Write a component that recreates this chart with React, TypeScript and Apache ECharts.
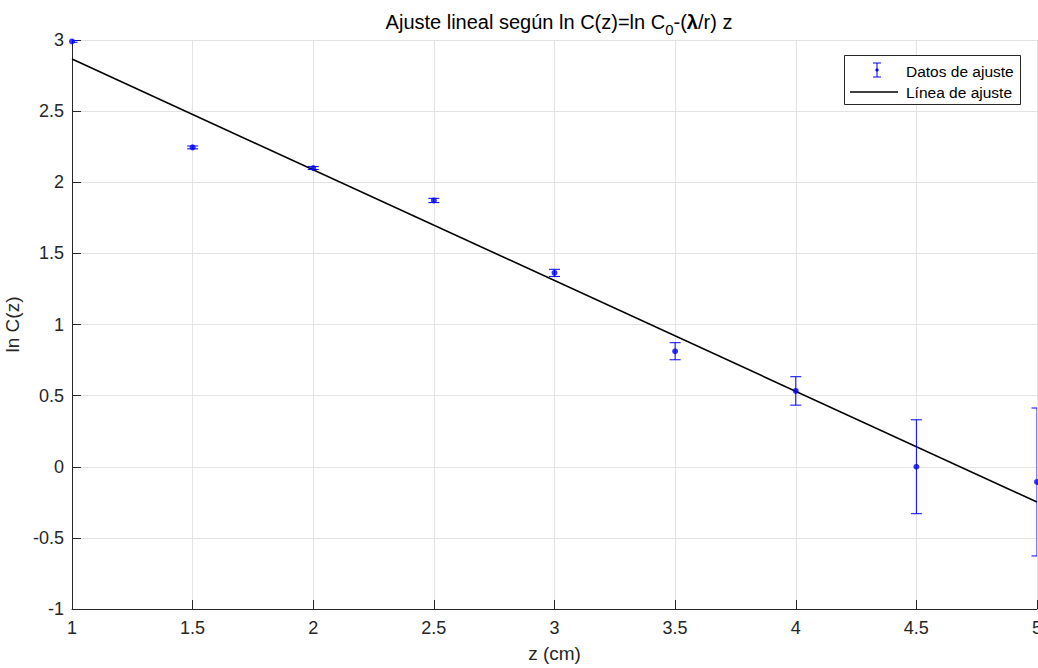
import React, { useEffect, useRef } from "react";
import * as echarts from "echarts";

const zValues = [1, 1.5, 2, 2.5, 3, 3.5, 4, 4.5, 5];
const lnC = [2.99, 2.245, 2.1, 1.872, 1.363, 0.812, 0.533, 0.0, -0.107];
const errors = [0.006, 0.01, 0.01, 0.015, 0.025, 0.06, 0.1, 0.33, 0.52];
const fitZ = [1, 5];
const fitLnC = [2.866, -0.248];
const xTicks = { min: 1, max: 5, interval: 0.5 };
const yTicks = { min: -1, max: 3, interval: 0.5 };

const FONT = "'Liberation Sans', Arial, Helvetica, sans-serif";
const BLUE = "#0000ff";
const AXIS = "#262626";

export default function App() {
  const ref = useRef<HTMLDivElement>(null);
  useEffect(() => {
    if (!ref.current) return;
    const chart = echarts.init(ref.current, undefined, { renderer: "svg" });
    const errData = zValues.map((z, i) => [z, lnC[i] - errors[i], lnC[i] + errors[i]]);
    const pts = zValues.map((z, i) => [z, lnC[i]]);
    const fit = fitZ.map((z, i) => [z, fitLnC[i]]);
    chart.setOption({
      animation: false,
      textStyle: { fontFamily: FONT },
      title: {
        text: "Ajuste lineal según ln C(z)=ln C{sub|0}-({b|λ}/r) z",
        left: 554,
        textAlign: "center",
        top: 1,
        textStyle: {
          fontFamily: FONT,
          fontSize: 20,
          fontWeight: "normal",
          color: "#000",
          rich: {
            sub: { fontSize: 15, fontFamily: FONT, color: "#000", padding: [16, 0, 0, 0] },
            b: { fontSize: 20, fontFamily: FONT, fontWeight: "bold", color: "#000" },
          },
        },
      },
      grid: { left: 72, right: 1, top: 40, bottom: 59, outerBoundsMode: "none", containLabel: false },
      xAxis: {
        type: "value",
        min: xTicks.min,
        max: xTicks.max,
        interval: xTicks.interval,
        name: "z (cm)",
        nameLocation: "middle",
        nameGap: 35,
        nameTextStyle: { fontFamily: FONT, fontSize: 19, color: AXIS },
        axisLine: { show: true, onZero: false, lineStyle: { color: AXIS, width: 1 } },
        axisTick: { show: true, inside: true, length: 9, lineStyle: { color: AXIS } },
        axisLabel: { fontFamily: FONT, fontSize: 18, color: AXIS, margin: 10 },
        splitLine: { show: true, lineStyle: { color: "#e3e3e3", width: 1 } },
      },
      yAxis: {
        type: "value",
        min: yTicks.min,
        max: yTicks.max,
        interval: yTicks.interval,
        name: "ln C(z)",
        nameLocation: "middle",
        nameGap: 37,
        nameRotate: 90,
        nameTextStyle: { fontFamily: FONT, fontSize: 19, color: AXIS },
        axisLine: { show: true, onZero: false, lineStyle: { color: AXIS, width: 1 } },
        axisTick: { show: true, inside: true, length: 9, lineStyle: { color: AXIS } },
        axisLabel: { fontFamily: FONT, fontSize: 18, color: AXIS, margin: 8 },
        splitLine: { show: true, lineStyle: { color: "#e3e3e3", width: 1 } },
      },
      series: [
        {
          type: "custom",
          name: "Datos de ajuste",
          clip: true,
          data: errData,
          encode: { x: 0, y: [1, 2] },
          renderItem: (params: any, api: any) => {
            const x = api.value(0);
            const lo = api.coord([x, api.value(1)]);
            const hi = api.coord([x, api.value(2)]);
            const hw = 5.5;
            const st = { stroke: BLUE, lineWidth: 1, fill: "none" };
            return {
              type: "group",
              children: [
                { type: "line", shape: { x1: lo[0], y1: lo[1], x2: hi[0], y2: hi[1] }, style: st },
                { type: "line", shape: { x1: lo[0] - hw, y1: lo[1], x2: lo[0] + hw, y2: lo[1] }, style: st },
                { type: "line", shape: { x1: hi[0] - hw, y1: hi[1], x2: hi[0] + hw, y2: hi[1] }, style: st },
              ],
            };
          },
          z: 3,
        },
        {
          type: "scatter",
          name: "puntos",
          data: pts,
          symbol: "circle",
          symbolSize: 6,
          itemStyle: { color: BLUE },
          clip: true,
          z: 4,
        },
        {
          type: "line",
          name: "Línea de ajuste",
          data: fit,
          showSymbol: false,
          lineStyle: { color: "#000", width: 1.6 },
          z: 2,
        },
      ],
      graphic: [
        {
          type: "rect",
          shape: { x: 844.5, y: 55.5, width: 176, height: 49 },
          style: { fill: "#fff", stroke: AXIS, lineWidth: 1 },
          z: 100,
        },
        { type: "line", shape: { x1: 877, y1: 63, x2: 877, y2: 77 }, style: { stroke: BLUE, lineWidth: 1 }, z: 101 },
        { type: "line", shape: { x1: 873, y1: 63, x2: 881, y2: 63 }, style: { stroke: BLUE, lineWidth: 1 }, z: 101 },
        { type: "line", shape: { x1: 873, y1: 77, x2: 881, y2: 77 }, style: { stroke: BLUE, lineWidth: 1 }, z: 101 },
        { type: "circle", shape: { cx: 877, cy: 70, r: 1.6 }, style: { fill: BLUE }, z: 101 },
        {
          type: "text",
          x: 906,
          y: 71,
          style: { text: "Datos de ajuste", fontFamily: FONT, fontSize: 15.5, fill: "#000", verticalAlign: "middle" },
          z: 101,
        },
        { type: "line", shape: { x1: 850, y1: 92, x2: 898, y2: 92 }, style: { stroke: "#000", lineWidth: 1.6 }, z: 101 },
        {
          type: "text",
          x: 906,
          y: 92,
          style: { text: "Línea de ajuste", fontFamily: FONT, fontSize: 15.5, fill: "#000", verticalAlign: "middle" },
          z: 101,
        },
      ],
    });
    return () => chart.dispose();
  }, []);
  return <div ref={ref} style={{ width: 1038, height: 668, position: "absolute", left: 0, top: 0 }} />;
}
